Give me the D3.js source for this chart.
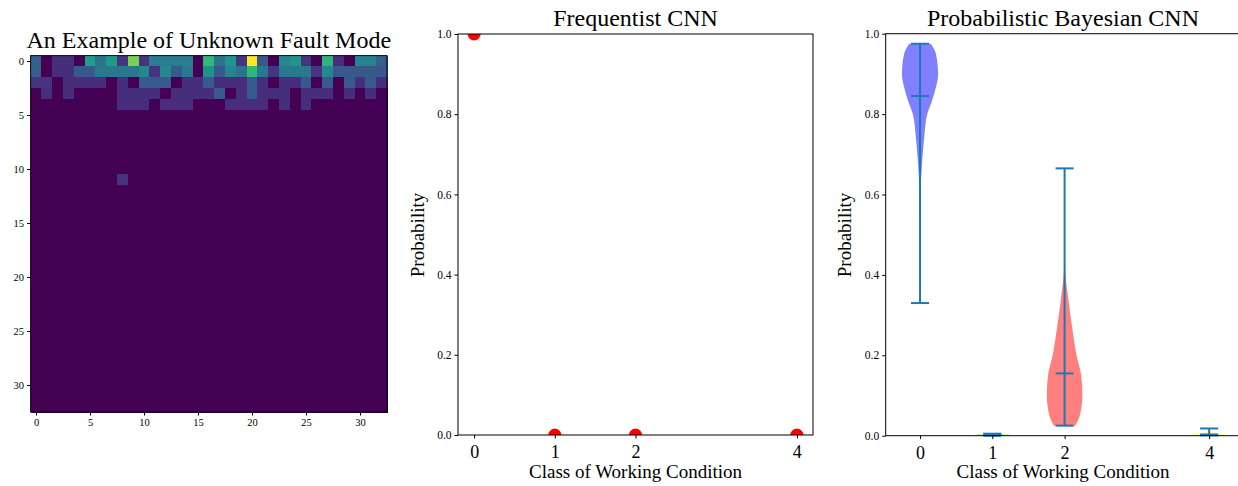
<!DOCTYPE html>
<html>
<head>
<meta charset="utf-8">
<script src="https://cdn.jsdelivr.net/npm/d3@7"></script>
<style>
  body { margin: 0; background: #fff; }
  svg { display: block; font-family: "Liberation Serif", "Times New Roman", serif; }
</style>
</head>
<body>
<svg id="chart" width="1238" height="486"></svg>
<script>
// heatmap: 33x33 grid, only the first rows carry energy
const gridSize = 33;
const heatRow0 = [0.3,0,0.13,0.13,0,0.56,0.38,0.55,0.15,0.8,0.15,0.42,0.42,0.42,0.42,0,0.66,0.38,0.52,0.15,1.0,0.27,0,0.47,0.52,0.15,0,0.65,0.13,0,0.45,0.45,0.3];
const heatRow1 = [0.3,0,0.13,0.13,0.27,0.27,0.4,0.4,0.4,0.4,0.47,0.15,0.47,0.28,0.4,0,0.5,0.28,0.45,0.38,0.66,0.4,0.15,0.4,0.4,0.4,0.15,0.47,0.27,0.27,0.27,0.27,0.27];
const heatRow2 = [0.15,0.15,0,0.13,0.13,0.13,0.13,0,0.13,0,0.28,0.28,0.28,0,0.13,0.13,0.28,0.13,0.13,0.13,0.28,0.13,0,0.13,0.13,0.28,0,0.28,0,0.28,0.13,0.28,0.13];
const heatRow3 = [0,0.13,0,0.13,0,0,0,0,0.13,0.13,0.13,0.13,0,0.13,0.13,0.13,0.13,0.28,0,0.13,0.28,0.13,0.13,0.13,0,0.13,0.13,0.13,0,0.13,0,0.13,0];
const heatRow4 = [0,0,0,0,0,0,0,0,0.13,0.13,0.13,0,0.13,0.13,0.13,0,0,0,0.13,0.13,0.13,0.13,0,0.13,0,0.13,0,0,0,0,0,0,0];
const heatSpots = [{ row: 11, col: 8, v: 0.15 }];
const heatTicks = [0, 5, 10, 15, 20, 25, 30];

// classifier outputs
const classes = [0, 1, 2, 4];
const freqProb = [1.0, 0.0, 0.0, 0.0];
const probTicks = [0, 0.2, 0.4, 0.6, 0.8, 1.0];

// bayesian violins: min / middle / max and density profile (value, half width)
const violinMin = [0.33, 0.0, 0.025, 0.001];
const violinMid = [0.845, 0.002, 0.155, 0.003];
const violinMax = [0.975, 0.005, 0.665, 0.018];
const violinColors = ["#0000ff", "#9acd32", "#ff0000", "#ffff00"];
const violinProfiles = [
  [[0.33,0],[0.45,0.001],[0.55,0.004],[0.6,0.008],[0.65,0.018],[0.7,0.037],[0.75,0.062],[0.8,0.1],[0.83,0.16],[0.86,0.21],[0.9,0.25],[0.95,0.22],[0.975,0.148]],
  [[0,0.17],[0.002,0.24],[0.004,0.15],[0.005,0.03]],
  [[0.025,0.15],[0.05,0.21],[0.1,0.246],[0.15,0.23],[0.2,0.165],[0.25,0.12],[0.3,0.08],[0.35,0.045],[0.4,0.012],[0.45,0.003],[0.55,0.0005],[0.665,0]],
  [[0.001,0.2],[0.003,0.23],[0.006,0.1],[0.01,0.03],[0.018,0]]
];

const svg = d3.select("#chart");
const serif = "Liberation Serif";

function box(g, x0, x1, y0, y1) {
  g.append("rect").attr("x", x0).attr("y", y0).attr("width", x1 - x0).attr("height", y1 - y0)
    .attr("fill", "none").attr("stroke", "#000").attr("stroke-width", 1);
}

// ---------- panel 1: heatmap ----------
const hx = d3.scaleLinear().domain([-0.5, gridSize - 0.5]).range([30.6, 387]);
const hy = d3.scaleLinear().domain([-0.5, gridSize - 0.5]).range([55.6, 412]);
const cells = [];
const topRows = [heatRow0, heatRow1, heatRow2, heatRow3, heatRow4];
for (let r = 0; r < gridSize; r++) {
  for (let c = 0; c < gridSize; c++) {
    const v = r < topRows.length ? topRows[r][c] : 0;
    cells.push({ r, c, v });
  }
}
heatSpots.forEach(s => { cells.find(d => d.r === s.row && d.c === s.col).v = s.v; });

const g1 = svg.append("g");
g1.append("g").attr("shape-rendering", "crispEdges")
  .selectAll("rect.cell").data(cells).join("rect")
  .attr("class", "cell")
  .attr("x", d => hx(d.c - 0.5))
  .attr("y", d => hy(d.r - 0.5))
  .attr("width", hx(1) - hx(0) + 0.8)
  .attr("height", hy(1) - hy(0) + 0.8)
  .attr("fill", d => d3.interpolateViridis(d.v));
box(g1, 30.6, 387, 55.6, 412);

g1.append("g").attr("transform", "translate(0,412)")
  .call(d3.axisBottom(hx).tickValues(heatTicks).tickSize(3.5).tickPadding(3))
  .call(a => a.select(".domain").remove())
  .call(a => a.selectAll("text").attr("font-size", 10.5).attr("font-family", serif).attr("fill", "#000"));
g1.append("g").attr("transform", "translate(30.6,0)")
  .call(d3.axisLeft(hy).tickValues(heatTicks).tickSize(3.5).tickPadding(3))
  .call(a => a.select(".domain").remove())
  .call(a => a.selectAll("text").attr("font-size", 10.5).attr("font-family", serif).attr("fill", "#000"));
g1.append("text").attr("x", 208.8).attr("y", 47.5).attr("text-anchor", "middle")
  .attr("font-size", 24).text("An Example of Unknown Fault Mode");

// ---------- panel 2: frequentist CNN ----------
const fx = d3.scaleLinear().domain([-0.2, 4.2]).range([458, 813]);
const fy = d3.scaleLinear().domain([0, 1]).range([435, 34]);
const g2 = svg.append("g");
svg.append("clipPath").attr("id", "clip2").append("rect")
  .attr("x", 458).attr("y", 34).attr("width", 813 - 458).attr("height", 435 - 34);
g2.append("g").attr("clip-path", "url(#clip2)")
  .selectAll("circle").data(classes).join("circle")
  .attr("cx", d => fx(d))
  .attr("cy", (d, i) => fy(freqProb[i]))
  .attr("r", 6.5)
  .attr("fill", "#ff0000");
box(g2, 458, 813, 34, 435);

function classAxis(g, xs, y0) {
  g.append("g").attr("transform", `translate(0,${y0})`)
    .call(d3.axisBottom(xs).tickValues(classes).tickFormat(d3.format("d")).tickSize(3.5).tickPadding(7))
    .call(a => a.select(".domain").remove())
    .call(a => a.selectAll("text").attr("font-size", 18).attr("font-family", serif).attr("fill", "#000"));
}
function probAxis(g, ys, x0) {
  g.append("g").attr("transform", `translate(${x0},0)`)
    .call(d3.axisLeft(ys).tickValues(probTicks).tickFormat(d3.format(".1f")).tickSize(3.5).tickPadding(3))
    .call(a => a.select(".domain").remove())
    .call(a => a.selectAll("text").attr("font-size", 11.5).attr("font-family", serif).attr("fill", "#000"));
}
classAxis(g2, fx, 435);
probAxis(g2, fy, 458);
g2.append("text").attr("x", 635.5).attr("y", 26).attr("text-anchor", "middle")
  .attr("font-size", 24).text("Frequentist CNN");
g2.append("text").attr("x", 635.5).attr("y", 478).attr("text-anchor", "middle")
  .attr("font-size", 19).text("Class of Working Condition");
g2.append("text").attr("transform", "translate(424,235) rotate(-90)").attr("text-anchor", "middle")
  .attr("font-size", 19).text("Probability");

// ---------- panel 3: bayesian CNN ----------
const bx = d3.scaleLinear().domain([-0.475, 4.475]).range([885.7, 1243.5]);
const by = d3.scaleLinear().domain([0, 1]).range([435.7, 33.7]);
const g3 = svg.append("g");
classes.forEach((cls, i) => {
  const area = d3.area()
    .curve(d3.curveMonotoneY)
    .y(d => by(d[0]))
    .x0(d => bx(cls - d[1]))
    .x1(d => bx(cls + d[1]));
  g3.append("path").datum(violinProfiles[i])
    .attr("d", area)
    .attr("fill", violinColors[i])
    .attr("fill-opacity", 0.5);
});
const blue = "#1f77b4";
classes.forEach((cls, i) => {
  g3.append("line").attr("x1", bx(cls)).attr("x2", bx(cls))
    .attr("y1", by(violinMin[i])).attr("y2", by(violinMax[i]))
    .attr("stroke", blue).attr("stroke-width", 2);
  [violinMin[i], violinMid[i], violinMax[i]].forEach(v => {
    g3.append("line").attr("x1", bx(cls - 0.125)).attr("x2", bx(cls + 0.125))
      .attr("y1", by(v)).attr("y2", by(v))
      .attr("stroke", blue).attr("stroke-width", 2);
  });
});
box(g3, 885.7, 1243.5, 33.7, 435.7);
classAxis(g3, bx, 435.7);
probAxis(g3, by, 885.7);
g3.append("text").attr("x", 1063).attr("y", 26).attr("text-anchor", "middle")
  .attr("font-size", 24).text("Probabilistic Bayesian CNN");
g3.append("text").attr("x", 1063).attr("y", 478).attr("text-anchor", "middle")
  .attr("font-size", 19).text("Class of Working Condition");
g3.append("text").attr("transform", "translate(851,235) rotate(-90)").attr("text-anchor", "middle")
  .attr("font-size", 19).text("Probability");
</script>
</body>
</html>
